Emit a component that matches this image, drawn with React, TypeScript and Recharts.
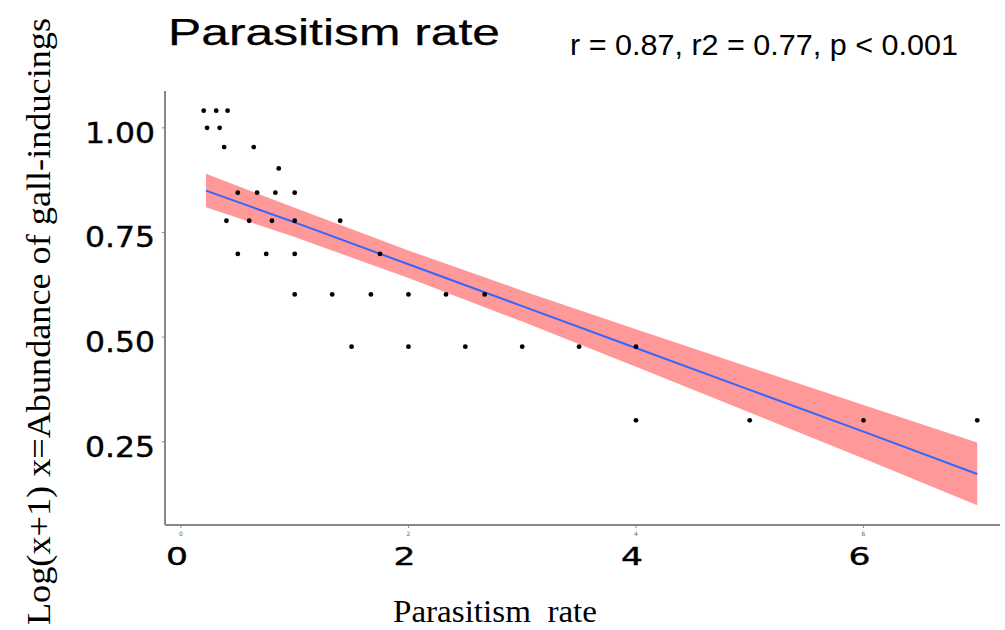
import React from 'react';
import { ComposedChart, Scatter, Area, Line, XAxis, YAxis } from 'recharts';

// observed points: parasitism rate vs log(x+1) abundance
const pointX = [
  0.2, 0.31, 0.41,
  0.23, 0.34,
  0.38, 0.64,
  0.86,
  0.5, 0.67, 0.83, 1.0,
  0.4, 0.6, 0.8, 1.0, 1.4,
  0.5, 0.75, 1.0, 1.75,
  1.0, 1.33, 1.67, 2.0, 2.33, 2.67,
  1.5, 2.0, 2.5, 3.0, 3.5, 4.0,
  4.0, 5.0, 6.0, 7.0,
];
const pointY = [
  1.041, 1.041, 1.041,
  1.0, 1.0,
  0.954, 0.954,
  0.903,
  0.845, 0.845, 0.845, 0.845,
  0.778, 0.778, 0.778, 0.778, 0.778,
  0.699, 0.699, 0.699, 0.699,
  0.602, 0.602, 0.602, 0.602, 0.602, 0.602,
  0.477, 0.477, 0.477, 0.477, 0.477, 0.477,
  0.301, 0.301, 0.301, 0.301,
];

// fitted line and confidence band
const fitX = [0.22, 1, 2, 3, 4, 5, 6, 7];
const fitY = [0.85, 0.774, 0.674, 0.574, 0.474, 0.374, 0.274, 0.173];
const bandLow = [0.81, 0.739, 0.641, 0.537, 0.429, 0.32, 0.21, 0.098];
const bandHigh = [0.89, 0.809, 0.707, 0.611, 0.519, 0.428, 0.338, 0.248];

const xTicks = [0, 2, 4, 6];
const yTicks = [0.25, 0.5, 0.75, 1.0];
const yTickLabels = ['0.25', '0.50', '0.75', '1.00'];

const scatterData = pointX.map((x, i) => ({ x, y: pointY[i] }));
const fitData = fitX.map((x, i) => ({ x, fit: fitY[i], band: [bandLow[i], bandHigh[i]] }));

const XTick = (props: any) => {
  const { x, payload } = props;
  return (
    <g>
      <text x={x} y={536} textAnchor="middle" fontSize={6} fill="#666" fontFamily="DejaVu Sans">
        {payload.value}
      </text>
      <text
        x={x - 4}
        y={565}
        textAnchor="middle"
        fontSize={25}
        fill="#000"
        stroke="#000"
        strokeWidth={0.4}
        fontFamily="DejaVu Sans"
        textLength={22}
        lengthAdjust="spacingAndGlyphs"
      >
        {payload.value}
      </text>
    </g>
  );
};

const YTick = (props: any) => {
  const { y, payload } = props;
  const idx = yTicks.indexOf(payload.value);
  return (
    <text
      x={155}
      y={y + 15}
      textAnchor="end"
      fontSize={29}
      fill="#000"
      stroke="#000"
      strokeWidth={0.4}
      fontFamily="DejaVu Sans"
      textLength={70}
      lengthAdjust="spacingAndGlyphs"
    >
      {idx >= 0 ? yTickLabels[idx] : payload.value}
    </text>
  );
};

const Dot = (props: any) => <circle cx={props.cx} cy={props.cy} r={2.4} fill="#000" />;

export default function App() {
  return (
    <div style={{ position: 'absolute', left: 0, top: 0, width: 1005, height: 630, overflow: 'hidden', background: '#fff' }}>
      <ComposedChart width={1005} height={630} data={fitData} margin={{ top: 91, right: 5, bottom: 75, left: 105 }}>
        <XAxis
          type="number"
          dataKey="x"
          domain={[-0.14, 7.2]}
          ticks={xTicks}
          allowDataOverflow
          height={30}
          axisLine={{ stroke: '#888', strokeWidth: 2 }}
          tickLine={{ stroke: '#888' }}
          tickSize={3}
          tick={<XTick />}
        />
        <YAxis
          type="number"
          domain={[0.051, 1.088]}
          ticks={yTicks}
          allowDataOverflow
          width={60}
          axisLine={{ stroke: '#888', strokeWidth: 2 }}
          tickLine={{ stroke: '#888' }}
          tickSize={3}
          tick={<YTick />}
        />
        <Scatter data={scatterData} dataKey="y" shape={<Dot />} isAnimationActive={false} />
        <Area
          type="linear"
          dataKey="band"
          stroke="none"
          fill="#ff0000"
          fillOpacity={0.4}
          isAnimationActive={false}
        />
        <Line type="linear" dataKey="fit" stroke="#3366ff" strokeWidth={2} dot={false} isAnimationActive={false} />
      </ComposedChart>
      <svg width={1005} height={630} style={{ position: 'absolute', left: 0, top: 0, pointerEvents: 'none' }}>
        <text x={168} y={45} fontSize={37} fontFamily="Liberation Sans" fill="#000" stroke="#000" strokeWidth={0.25} textLength={332} lengthAdjust="spacingAndGlyphs">
          Parasitism rate
        </text>
        <text x={570} y={55} fontSize={29} fontFamily="Liberation Sans" fill="#000" textLength={388} lengthAdjust="spacingAndGlyphs">
          r = 0.87, r2 = 0.77, p &lt; 0.001
        </text>
        <text x={393} y={622} fontSize={32} fontFamily="Liberation Serif" fill="#000" textLength={204} lengthAdjust="spacingAndGlyphs" xmlSpace="preserve">
          Parasitism  rate
        </text>
        <text
          x={0}
          y={0}
          transform="translate(50, 625) rotate(-90)"
          fontSize={34}
          fontFamily="Liberation Serif"
          fill="#000"
          textLength={607}
          lengthAdjust="spacingAndGlyphs"
        >
          Log(x+1) x=Abundance of gall-inducings
        </text>
      </svg>
    </div>
  );
}
